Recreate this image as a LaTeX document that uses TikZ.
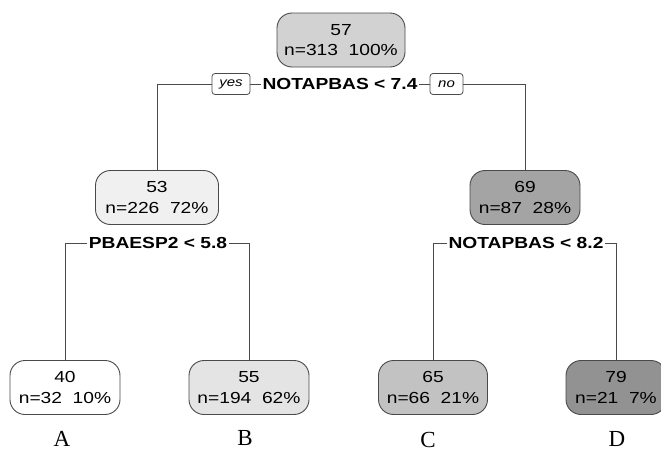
\documentclass[tikz,border=0pt]{standalone}
\usepackage{fontspec}
\setmainfont{Liberation Sans}
\newfontfamily\stretchsans[FakeStretch=1.2]{Liberation Sans}
\newfontfamily\labserif{Liberation Serif}
\definecolor{linegray}{HTML}{4A4A4A}
\definecolor{cRoot}{HTML}{D2D2D2}
\definecolor{cL}{HTML}{F0F0F0}
\definecolor{cR}{HTML}{A4A4A4}
\definecolor{cA}{HTML}{FFFFFF}
\definecolor{cB}{HTML}{E4E4E4}
\definecolor{cC}{HTML}{C2C2C2}
\definecolor{cD}{HTML}{929292}
\tikzset{
  treenode/.style={draw=linegray, line width=0.9pt, rounded corners=15pt,
    minimum height=54pt, inner sep=0pt, align=center,
    font=\stretchsans\fontsize{16}{20.5}\selectfont},
  splitlab/.style={inner sep=1.5pt, font=\stretchsans\bfseries\fontsize{16}{19}\selectfont},
  yesno/.style={draw=linegray, line width=0.8pt, rounded corners=3pt, minimum height=21pt,
    inner sep=0pt, font=\stretchsans\itshape\fontsize{12.5}{14}\selectfont},
  conn/.style={draw=linegray, line width=0.9pt},
  leaflab/.style={font=\labserif\fontsize{23}{26}\selectfont, inner sep=0pt}
}
\begin{document}
\begin{tikzpicture}[x=1pt,y=-1pt]
\useasboundingbox (0,0) rectangle (661,453);
\clip (0,0) rectangle (661,453);
% nodes
\node[treenode, fill=cRoot, minimum width=128pt] (root) at (341,40) {57\\n=313\ \ 100\%};
\node[treenode, fill=cL, minimum width=123pt] (n53) at (157,197.5) {53\\n=226\ \ 72\%};
\node[treenode, fill=cR, minimum width=110pt] (n69) at (525,197.5) {69\\n=87\ \ 28\%};
\node[treenode, fill=cA, minimum width=110pt] (nA) at (65,387.5) {40\\n=32\ \ 10\%};
\node[treenode, fill=cB, minimum width=120pt] (nB) at (249,387.5) {55\\n=194\ \ 62\%};
\node[treenode, fill=cC, minimum width=109pt] (nC) at (433,387.5) {65\\n=66\ \ 21\%};
\node[treenode, fill=cD, minimum width=100pt] (nD) at (616,387.5) {79\\n=21\ \ 7\%};
% split 1
\node[splitlab] (s1) at (340,84) {NOTAPBAS < 7.4};
\node[yesno, minimum width=38pt] (yes) at (231,84) {yes};
\node[yesno, minimum width=33pt] (no) at (446.5,84) {no};
\coordinate (s1l) at (157,84);
\coordinate (s1r) at (525,84);
\draw[conn] (yes.east) -- (s1.west);
\draw[conn] (s1.east) -- (no.west);
\draw[conn] (yes.west) -- (s1l) -- (n53.north);
\draw[conn] (no.east) -- (s1r) -- (n69.north);
% split 2
\node[splitlab] (s2) at (158,243) {PBAESP2 < 5.8};
\coordinate (s2l) at (65,243);
\coordinate (s2r) at (249,243);
\draw[conn] (s2.west) -- (s2l) -- (nA.north);
\draw[conn] (s2.east) -- (s2r) -- (nB.north);
% split 3
\node[splitlab] (s3) at (526,243) {NOTAPBAS < 8.2};
\coordinate (s3l) at (433,243);
\coordinate (s3r) at (616,243);
\draw[conn] (s3.west) -- (s3l) -- (nC.north);
\draw[conn] (s3.east) -- (s3r) -- (nD.north);
% leaf letters
\node[leaflab] (lA) at (62,439) {A};
\node[leaflab] (lB) at (245,438) {B};
\node[leaflab] (lC) at (428,440) {C};
\node[leaflab] (lD) at (617,439) {D};
\end{tikzpicture}
\end{document}
